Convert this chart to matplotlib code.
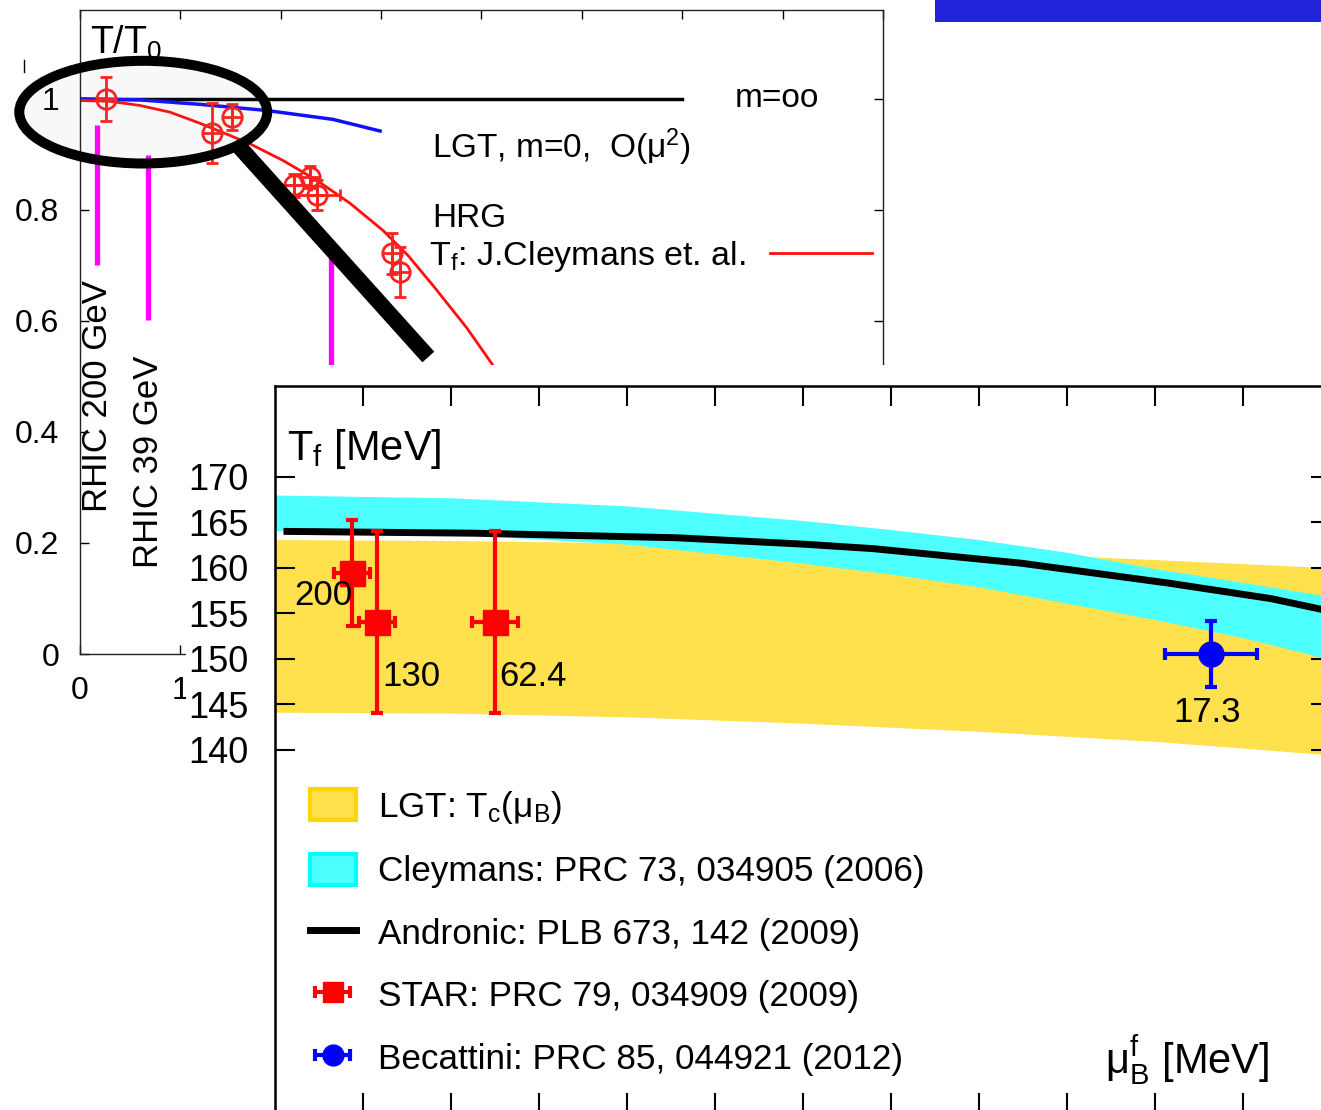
import matplotlib
matplotlib.use('Agg')
import numpy as np
import matplotlib.pyplot as plt
from matplotlib.patches import Ellipse, Rectangle, Patch
from matplotlib.lines import Line2D

plt.rcParams['font.family'] = ['Liberation Sans', 'DejaVu Sans']
plt.rcParams['mathtext.fontset'] = 'custom'
plt.rcParams['mathtext.rm'] = 'Liberation Sans'
plt.rcParams['mathtext.it'] = 'Liberation Sans:italic'
plt.rcParams['mathtext.bf'] = 'Liberation Sans:bold'
plt.rcParams['mathtext.default'] = 'regular'

# ---- background plot: T/T0 ----
hrg_x = [0, 0.299, 0.598, 0.896, 1.195, 1.494, 1.693, 2.022, 2.361, 2.689,
         3.018, 3.267, 3.516, 3.855, 4.114, 4.482]
hrg_y = [0.997, 0.9955, 0.988, 0.976, 0.956, 0.934, 0.919, 0.889, 0.853, 0.812,
         0.763, 0.718, 0.664, 0.587, 0.520, 0.421]

lgt_x = [0, 0.6, 1.2, 1.86, 2.52, 2.99]
lgt_y = [1.0, 0.998, 0.990, 0.979, 0.963, 0.942]

minf_x = [0, 6]
minf_y = [1.0, 1.0]

pts_x = [0.26, 1.32, 1.51, 2.13, 2.29, 2.36, 3.11, 3.19]
pts_y = [1.00, 0.938, 0.967, 0.844, 0.859, 0.826, 0.722, 0.688]
pts_yerr = [0.04, 0.054, 0.023, 0.02, 0.02, 0.027, 0.037, 0.045]
pts_xerr = [0, 0, 0, 0.17, 0, 0.23, 0, 0]

rhic_x = [0.17, 0.68, 2.50]
rhic_top = [0.952, 0.898, 0.718]
rhic_bot = [0.700, 0.601, 0.40]
rhic_labels = ['RHIC 200 GeV', 'RHIC 39 GeV']
rhic_label_y = [0.256, 0.155]

# ---- inset: freeze-out temperature ----
mu_lgt = [0, 50, 100, 150, 200, 250, 300]
lgt_up = [163.1, 163.0, 162.75, 162.3, 161.7, 160.9, 160.0]
lgt_lo = [144.1, 144.0, 143.6, 142.9, 142.0, 140.9, 139.4]

mu_cley = [0, 50, 100, 150, 175, 200, 225, 250, 275, 300]
cley_up = [168.0, 167.7, 166.8, 165.2, 164.2, 163.1, 161.7, 159.9, 158.4, 156.8]
cley_lo = [164.1, 163.7, 162.6, 160.5, 159.3, 157.9, 156.1, 154.3, 152.3, 149.9]

andr_mu = [3.4, 57, 114, 150, 170, 212, 254, 283, 300]
andr_T = [164.0, 163.8, 163.3, 162.6, 162.1, 160.5, 158.3, 156.6, 155.2]

star_mu = [21.9, 29.0, 62.5]
star_T = [159.4, 154.0, 154.0]
star_Terr = [5.8, 10.0, 10.0]
star_muerr = [5.0, 5.2, 6.4]
star_labels = ['200', '130', '62.4']

bec_mu = [265.9]
bec_T = [150.5]
bec_Terr = [3.6]
bec_muerr = [13.0]
bec_labels = ['17.3']

W, H = 1321, 1110
fig = plt.figure(figsize=(W / 100, H / 100), dpi=100)

# background axes
ax = fig.add_axes([80 / W, 1 - 654 / H, 803 / W, 644 / H])
ax.set_xlim(0, 8)
ax.set_ylim(0, 1.16)
ax.set_xticks(range(0, 9))
ax.set_xticklabels(['0', '1'] + [''] * 7)
ax.set_yticks([0, 0.2, 0.4, 0.6, 0.8, 1.0])
ax.set_yticklabels(['0', '0.2', '0.4', '0.6', '0.8', '1'])
ax.tick_params(direction='in', length=6.5, width=1, labelsize=23,
               top=True, right=True)
ax.tick_params(axis='y', pad=15)
ax.tick_params(axis='x', pad=16)
for s in ax.spines.values():
    s.set_linewidth(1.0)
    s.set_color('#222222')

ax.plot(minf_x, minf_y, color='k', lw=2.5)
ax.plot(lgt_x, lgt_y, color='#1010ff', lw=2.5)
hrg_line, = ax.plot(hrg_x, hrg_y, color='#ff1010', lw=2)
ax.vlines(rhic_x, rhic_bot, rhic_top, color='#ff00ff', lw=3.8)
ax.errorbar(pts_x, pts_y, yerr=pts_yerr, xerr=pts_xerr, fmt='o', mfc='none',
            mec='#ff2020', ms=14, mew=2, ecolor='#ff2020', elinewidth=2,
            capsize=4, capthick=2)
ax.plot(pts_x, pts_y, '+', color='#ff2020', ms=14, mew=2)
for xv, yv, lab in zip(rhic_x, rhic_label_y, rhic_labels):
    ax.text(xv, yv, lab, rotation=90, ha='center', va='bottom', fontsize=25)

ax.text(0.1, 1.082, 'T/T$_0$', fontsize=27, ha='left', va='baseline')
ax.text(6.52, 1.0, 'm=oo', fontsize=24, ha='left', va='center')
ax.text(3.51, 0.893, 'LGT, m=0,  O(μ$^2$)', fontsize=24, ha='left', va='baseline')
ax.text(3.51, 0.769, 'HRG', fontsize=24, ha='left', va='baseline')
ax.legend([hrg_line], ['T$_f$: J.Cleymans et. al.'], markerfirst=False,
          loc='center right', bbox_to_anchor=(7.89, 0.7165),
          bbox_transform=ax.transData, frameon=False, fontsize=24.5,
          handlelength=3.0, handletextpad=0.7, borderpad=0, borderaxespad=0)

# magnifier glass
ax.add_patch(Ellipse((0.63, 0.976), 2.47, 0.185, facecolor=(0.5, 0.5, 0.5, 0.05),
                     edgecolor='k', lw=7.2, clip_on=False, zorder=10))
ax.plot([1.59, 3.47], [0.913, 0.535], color='k', lw=11.5,
        solid_capstyle='butt', clip_on=False, zorder=10)

# stray mark and blue title bar
fig.add_artist(Line2D([24 / W, 24 / W], [1 - 60 / H, 1 - 72 / H], color='k', lw=1))
fig.add_artist(Rectangle((935 / W, 1 - 22 / H), (W - 935) / W, 22 / H,
                         facecolor='#2323d9', edgecolor='none',
                         transform=fig.transFigure))

# white cover under the inset
fig.add_artist(Rectangle((186 / W, 0), 1 - 186 / W, (H - 365) / H,
                         facecolor='white', edgecolor='none',
                         transform=fig.transFigure, zorder=0.5))

# inset axes
ax2 = fig.add_axes([275 / W, 1 - 1113 / H, 1056 / W, 727 / H])
ax2.set_zorder(1)
ax2.set_xlim(0, 300)
ax2.set_ylim(100, 180)
ax2.set_xticks(range(25, 300, 25))
ax2.set_yticks([140, 145, 150, 155, 160, 165, 170])
ax2.tick_params(direction='in', length=14.4, width=1.5, labelsize=26,
                top=True, right=True, labelbottom=False, pad=19)
for s in ax2.spines.values():
    s.set_linewidth(1.8)

yellow = '#ffe04d'
cyan = '#4dffff'
ax2.fill_between(mu_lgt, lgt_lo, lgt_up, color=yellow, lw=0, zorder=1)
ax2.fill_between(mu_cley, cley_lo, cley_up, color=cyan, lw=0, zorder=2)
ax2.plot(andr_mu, andr_T, color='k', lw=5, zorder=3)
ax2.errorbar(star_mu, star_T, yerr=star_Terr, xerr=star_muerr, fmt='s',
             color='#ff0000', ms=18, elinewidth=3, capsize=4.5, capthick=3, zorder=4)
ax2.errorbar(bec_mu, bec_T, yerr=bec_Terr, xerr=bec_muerr, fmt='o',
             color='#0000ff', ms=18, elinewidth=3, capsize=4.5, capthick=3, zorder=4)

ax2.text(star_mu[0], 156.9, star_labels[0], fontsize=25, ha='right', va='center', zorder=5)
ax2.text(30.4, 148.0, star_labels[1], fontsize=25, ha='left', va='center', zorder=5)
ax2.text(63.6, 148.0, star_labels[2], fontsize=25, ha='left', va='center', zorder=5)
ax2.text(264.8, 144.1, bec_labels[0], fontsize=25, ha='center', va='center', zorder=5)

ax2.text(0.011, 0.898, 'T$_f$ [MeV]', transform=ax2.transAxes, fontsize=30,
         ha='left', va='baseline')
ax2.text(0.942, 0.055, '$μ_B^f$ [MeV]', transform=ax2.transAxes, fontsize=30,
         ha='right', va='baseline')

# legend proxies (NaN, so nothing shows in the axes)
star_key = ax2.errorbar([np.nan], [np.nan], xerr=[1], fmt='s', color='#ff0000',
                        ms=15, elinewidth=3, capsize=4.5, capthick=3)
bec_key = ax2.errorbar([np.nan], [np.nan], xerr=[1], fmt='o', color='#0000ff',
                       ms=15, elinewidth=3, capsize=4.5, capthick=3)
handles = [
    Patch(facecolor=yellow, edgecolor='#ffd700', lw=3),
    Patch(facecolor=cyan, edgecolor='#00ffff', lw=3),
    Line2D([], [], color='k', lw=5),
    star_key,
    bec_key,
]
labels = [
    'LGT: T$_c$(μ$_B$)',
    'Cleymans: PRC 73, 034905 (2006)',
    'Andronic: PLB 673, 142 (2009)',
    'STAR: PRC 79, 034909 (2009)',
    'Becattini: PRC 85, 044921 (2012)',
]
ax2.legend(handles, labels, loc='upper left', bbox_to_anchor=(0.033, 0.446),
           frameon=False, fontsize=25.3, handlelength=1.3, handleheight=1.0,
           handletextpad=0.64, labelspacing=0.79, borderpad=0, borderaxespad=0)

fig.savefig('out.png', dpi=100)
